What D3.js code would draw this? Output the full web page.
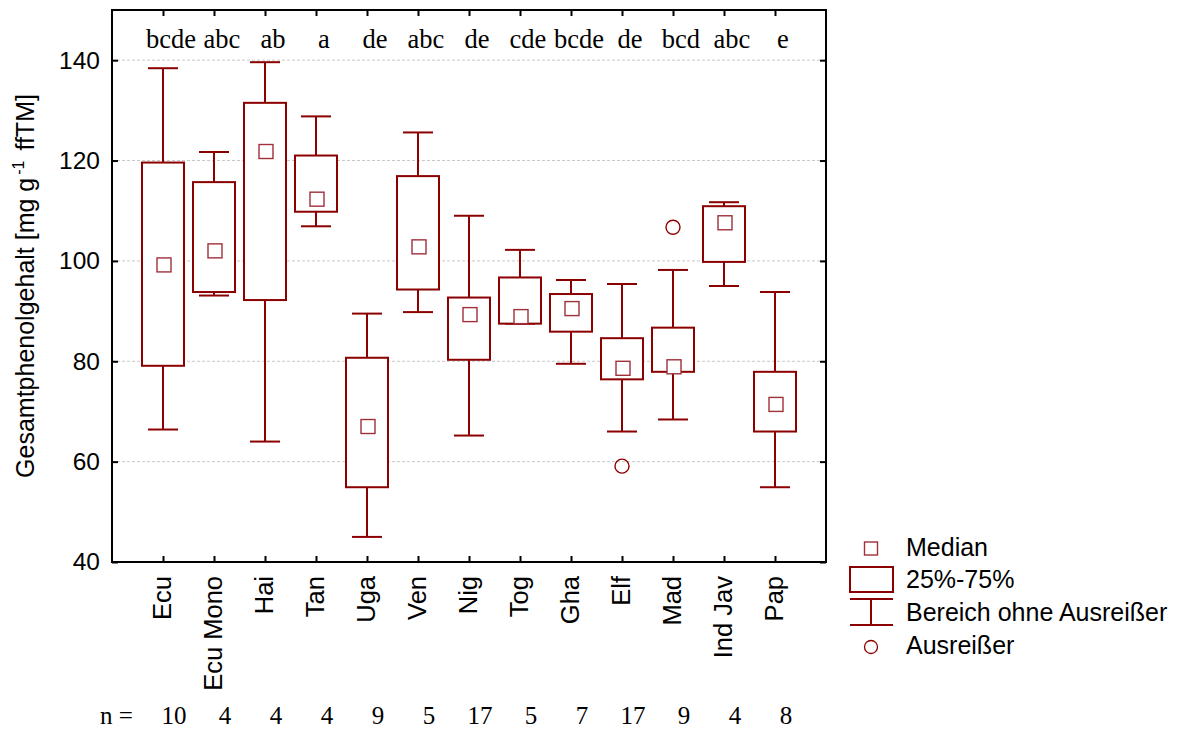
<!DOCTYPE html>
<html><head><meta charset="utf-8">
<script src="https://cdn.jsdelivr.net/npm/d3@7"></script>
<style>body{margin:0;background:#fff}svg{display:block}</style>
</head><body>
<script>
const categories = ["Ecu","Ecu Mono","Hai","Tan","Uga","Ven","Nig","Tog","Gha","Elf","Mad","Ind Jav","Pap"];
const whiskerHigh = [138.4,121.7,139.6,128.8,89.5,125.6,109.0,102.2,96.2,95.4,98.2,111.7,93.8];
const q3 = [119.6,115.7,131.5,121.0,80.7,116.9,92.7,96.7,93.4,84.6,86.7,110.9,77.9];
const medians = [99.2,102.0,121.8,112.3,67.0,102.8,89.3,88.9,90.5,78.6,78.9,107.6,71.4];
const q1 = [79.1,93.8,92.2,109.8,54.9,94.3,80.3,87.5,85.9,76.4,77.9,99.8,66.0];
const whiskerLow = [66.4,93.1,64.0,106.9,45.0,89.8,65.2,87.5,79.5,66.0,68.4,95.0,54.9];
const outlierCats = ["Elf","Mad"];
const outlierValues = [59.1,106.7];
const letters = ["bcde","abc","ab","a","de","abc","de","cde","bcde","de","bcd","abc","e"];
const nCounts = [10,4,4,4,9,5,17,5,7,17,9,4,8];
const yTicks = [40,60,80,100,120,140];
const legendLabels = ["Median","25%-75%","Bereich ohne Ausreißer","Ausreißer"];

const W = 1189, H = 731;
const L = 112, R = 826, T = 10, B = 562;
const red = "#8b0000";
const svg = d3.select("body").append("svg").attr("width", W).attr("height", H);

const x = d3.scalePoint().domain(categories).range([L, R]).padding(1);
const y = d3.scaleLinear().domain([40,150]).range([B, T]);

// gridlines
svg.append("g").selectAll("line").data(yTicks.filter(d => d > 40)).join("line")
  .attr("x1", L).attr("x2", R).attr("y1", d => y(d)).attr("y2", d => y(d))
  .attr("stroke", "#c8c8c8").attr("stroke-width", 1).attr("stroke-dasharray", "3,2");

// axes with inward ticks
const fs = "Liberation Sans, Arial, sans-serif";
const gl = svg.append("g").attr("transform", `translate(${L},0)`)
  .call(d3.axisLeft(y).tickValues(yTicks).tickSizeInner(-6).tickSizeOuter(0).tickPadding(12));
const gr = svg.append("g").attr("transform", `translate(${R},0)`)
  .call(d3.axisRight(y).tickValues(yTicks).tickSizeInner(-6).tickSizeOuter(0).tickFormat(""));
const gb = svg.append("g").attr("transform", `translate(0,${B})`)
  .call(d3.axisBottom(x).tickSizeInner(-6).tickSizeOuter(0).tickFormat(""));
const gt = svg.append("g").attr("transform", `translate(0,${T})`)
  .call(d3.axisTop(x).tickSizeInner(-6).tickSizeOuter(0).tickFormat(""));
[gl,gr,gb,gt].forEach(g => {
  g.select(".domain").remove();
  g.selectAll(".tick line").attr("stroke", "#000").attr("stroke-width", 2);
});
gl.selectAll(".tick text").attr("font-family", fs).attr("font-size", 24.5).attr("fill", "#000");

// frame
svg.append("rect").attr("x", L).attr("y", T).attr("width", R - L).attr("height", B - T)
  .attr("fill", "none").attr("stroke", "#000").attr("stroke-width", 2);

// category labels rotated
svg.append("g").selectAll("text").data(categories).join("text")
  .attr("transform", d => `translate(${x(d) + 8},576) rotate(-90)`)
  .attr("text-anchor", "end").attr("font-family", fs).attr("font-size", 25.5).text(d => d);

// boxes
const bw = 42, cw = 30, ms = 14;
const g = svg.append("g").selectAll("g").data(categories).join("g");
g.append("line").attr("x1", d => x(d)).attr("x2", d => x(d))
  .attr("y1", (d,i) => y(whiskerHigh[i])).attr("y2", (d,i) => y(q3[i]))
  .attr("stroke", red).attr("stroke-width", 2);
g.append("line").attr("x1", d => x(d)).attr("x2", d => x(d))
  .attr("y1", (d,i) => y(q1[i])).attr("y2", (d,i) => y(whiskerLow[i]))
  .attr("stroke", red).attr("stroke-width", 2);
g.append("line").attr("x1", d => x(d) - cw/2).attr("x2", d => x(d) + cw/2)
  .attr("y1", (d,i) => y(whiskerHigh[i])).attr("y2", (d,i) => y(whiskerHigh[i]))
  .attr("stroke", red).attr("stroke-width", 2);
g.append("line").attr("x1", d => x(d) - cw/2).attr("x2", d => x(d) + cw/2)
  .attr("y1", (d,i) => y(whiskerLow[i])).attr("y2", (d,i) => y(whiskerLow[i]))
  .attr("stroke", red).attr("stroke-width", 2);
g.append("rect").attr("x", d => x(d) - bw/2).attr("width", bw)
  .attr("y", (d,i) => y(q3[i])).attr("height", (d,i) => y(q1[i]) - y(q3[i]))
  .attr("fill", "#fff").attr("stroke", red).attr("stroke-width", 2);
g.append("rect").attr("x", d => x(d) - ms/2 + 1).attr("width", ms)
  .attr("y", (d,i) => y(medians[i]) - ms/2).attr("height", ms)
  .attr("fill", "#fff").attr("stroke", "#a0303a").attr("stroke-width", 1.4);

// outliers
svg.append("g").selectAll("circle").data(outlierCats).join("circle")
  .attr("cx", d => x(d)).attr("cy", (d,i) => y(outlierValues[i])).attr("r", 7)
  .attr("fill", "none").attr("stroke", red).attr("stroke-width", 1.4);

// letters
const serif = "Liberation Serif, Times New Roman, serif";
svg.append("g").selectAll("text").data(categories).join("text")
  .attr("x", d => x(d) + 8).attr("y", 48).attr("text-anchor", "middle")
  .attr("font-family", serif).attr("font-size", 26.5).text((d,i) => letters[i]);

// n row
svg.append("text").attr("x", 100).attr("y", 724).attr("font-family", serif).attr("font-size", 25).text("n =");
svg.append("g").selectAll("text").data(categories).join("text")
  .attr("x", d => x(d) + 11).attr("y", 724).attr("text-anchor", "middle")
  .attr("font-family", serif).attr("font-size", 25).text((d,i) => nCounts[i]);

// y title
const yt = svg.append("text").attr("transform", "translate(34,286) rotate(-90)")
  .attr("text-anchor", "middle").attr("font-family", fs).attr("font-size", 25);
yt.append("tspan").text("Gesamtphenolgehalt [mg g");
yt.append("tspan").attr("dy", -10).attr("dx", 3).attr("font-size", 16).text("-1");
yt.append("tspan").attr("dy", 10).attr("dx", 3).text(" ffTM]");

// legend
const lg = svg.append("g");
const lx = 871;
lg.append("rect").attr("x", lx - 6.5).attr("y", 542).attr("width", 13).attr("height", 13)
  .attr("fill", "none").attr("stroke", "#a0303a").attr("stroke-width", 1.4);
lg.append("rect").attr("x", 850).attr("y", 567).attr("width", 43).attr("height", 25)
  .attr("fill", "none").attr("stroke", red).attr("stroke-width", 2);
lg.append("line").attr("x1", 850).attr("x2", 893).attr("y1", 599).attr("y2", 599).attr("stroke", red).attr("stroke-width", 2);
lg.append("line").attr("x1", 850).attr("x2", 893).attr("y1", 625).attr("y2", 625).attr("stroke", red).attr("stroke-width", 2);
lg.append("line").attr("x1", lx).attr("x2", lx).attr("y1", 599).attr("y2", 625).attr("stroke", red).attr("stroke-width", 2);
lg.append("circle").attr("cx", lx).attr("cy", 647).attr("r", 6.5).attr("fill", "none").attr("stroke", red).attr("stroke-width", 1.3);
lg.selectAll("text.l").data(legendLabels).join("text").attr("class","l")
  .attr("x", 906).attr("y", (d,i) => [556, 588, 621, 654][i])
  .attr("font-family", fs).attr("font-size", 25).text(d => d);
</script>
</body></html>
